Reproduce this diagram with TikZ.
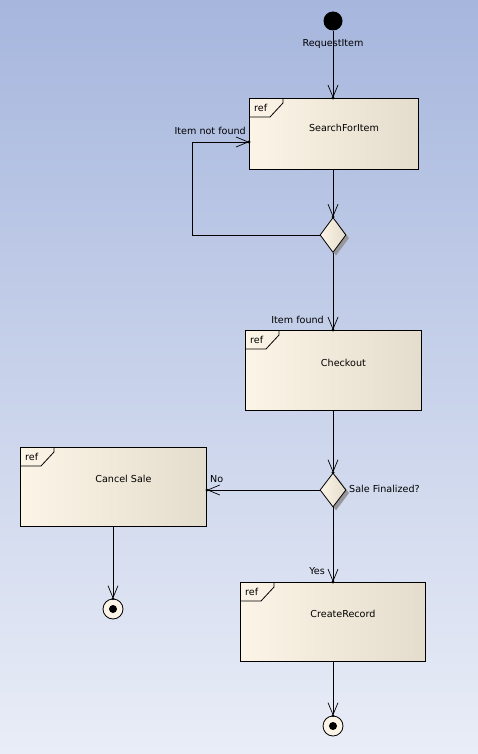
\documentclass[tikz,border=0pt]{standalone}
\usepackage{fontspec}
\setmainfont{DejaVu Sans}
\usetikzlibrary{arrows.meta,shapes.geometric,calc}
\definecolor{bgT}{RGB}{166,182,221}
\definecolor{bgB}{RGB}{233,237,247}
\definecolor{boxL}{RGB}{252,244,230}
\definecolor{boxR}{RGB}{228,220,204}
\definecolor{shad}{RGB}{150,150,155}
\begin{document}
\begin{tikzpicture}[x=1pt,y=-1pt,
  lbl/.style={font=\fontsize{9.6}{11}\selectfont, inner sep=0pt},
  actbox/.style={draw=black, line width=0.9pt, left color=boxL, right color=boxR, rectangle, inner sep=0pt, anchor=north west},
  dec/.style={diamond, draw=black, line width=0.8pt, left color=boxL, right color=boxR, inner sep=0pt, minimum width=26pt, minimum height=35pt},
  decshadow/.style={diamond, fill=shad, draw=none, inner sep=0pt, minimum width=26pt, minimum height=35pt},
  endn/.style={circle, draw=black, line width=0.8pt, fill=boxL, minimum size=20pt, inner sep=0pt,
     path picture={\fill[black] (path picture bounding box.center) circle (4pt);}},
  startn/.style={circle, fill=black, minimum size=19pt, inner sep=0pt},
  flow/.style={line width=0.8pt, -{Straight Barb[length=12pt,width=10pt,line width=0.7pt]}},
  line/.style={line width=0.8pt}
]
\fill[top color=bgT, bottom color=bgB] (0,0) rectangle (478,754);
\useasboundingbox (0,0) rectangle (478,754);

% nodes
\node[startn] (start) at (333,21) {};
\node[lbl] (reqlbl) at (333,44) {RequestItem};

\node[actbox, minimum width=169pt, minimum height=71pt] (search) at (249,98) {};
\node[actbox, minimum width=176pt, minimum height=80pt] (checkout) at (245,330) {};
\node[actbox, minimum width=186pt, minimum height=79pt] (cancel) at (20,447) {};
\node[actbox, minimum width=185pt, minimum height=79pt] (create) at (240,582) {};

\foreach \b/\t/\dy in {search/SearchForItem/30, checkout/Checkout/33, cancel/Cancel Sale/32, create/CreateRecord/32}{
  \draw[line] (\b.north west) ++(34,0) -- ++(0,5) -- ++(-13,14) -- ++(-21,0);
  \node[lbl, anchor=west] at ($(\b.north west)+(5,10)$) {ref};
  \node[lbl] at ($(\b.north)+(10,\dy)$) {\t};
}

\node[decshadow] at (336,238) {};
\node[dec] (d1) at (333,235) {};
\node[decshadow] at (336,493) {};
\node[dec, minimum height=34pt] (d2) at (333,490) {};

\node[endn] (end1) at (113,609) {};
\node[endn] (end2) at (333,726) {};

\coordinate (loopin) at ($(search.north west)+(0,44)$);

% connectors
\draw[flow] (start) -- (start |- search.north);
\fill (start |- search.north) circle (1.6pt);
\draw[flow] (search.south -| d1.north) -- (d1.north);
\fill (d1.north) circle (1.6pt);
\draw[flow] (d1.west) -- ++(-127,0) |- (loopin);
\fill (loopin) circle (1.6pt);
\node[lbl, anchor=east] at (246,131) {Item not found};
\draw[flow] (d1.south) -- (d1.south |- checkout.north);
\fill (d1.south |- checkout.north) circle (1.6pt);
\node[lbl, anchor=east] at (324,320) {Item found};
\draw[flow] (checkout.south -| d2.north) -- (d2.north);
\fill (d2.north) circle (1.6pt);
\node[lbl, anchor=west] at (349,489) {Sale Finalized?};
\draw[flow] (d2.west) -- (d2.west -| cancel.east);
\fill (d2.west -| cancel.east) circle (1.6pt);
\node[lbl, anchor=west] at (210,479) {No};
\draw[flow] (d2.south) -- (d2.south |- create.north);
\fill (d2.south |- create.north) circle (1.6pt);
\node[lbl, anchor=east] at (325,571) {Yes};
\draw[flow] (cancel.south -| end1.north) -- (end1.north);
\fill (end1.north) circle (1.6pt);
\draw[flow] (create.south -| end2.north) -- (end2.north);
\fill (end2.north) circle (1.6pt);
\end{tikzpicture}
\end{document}
